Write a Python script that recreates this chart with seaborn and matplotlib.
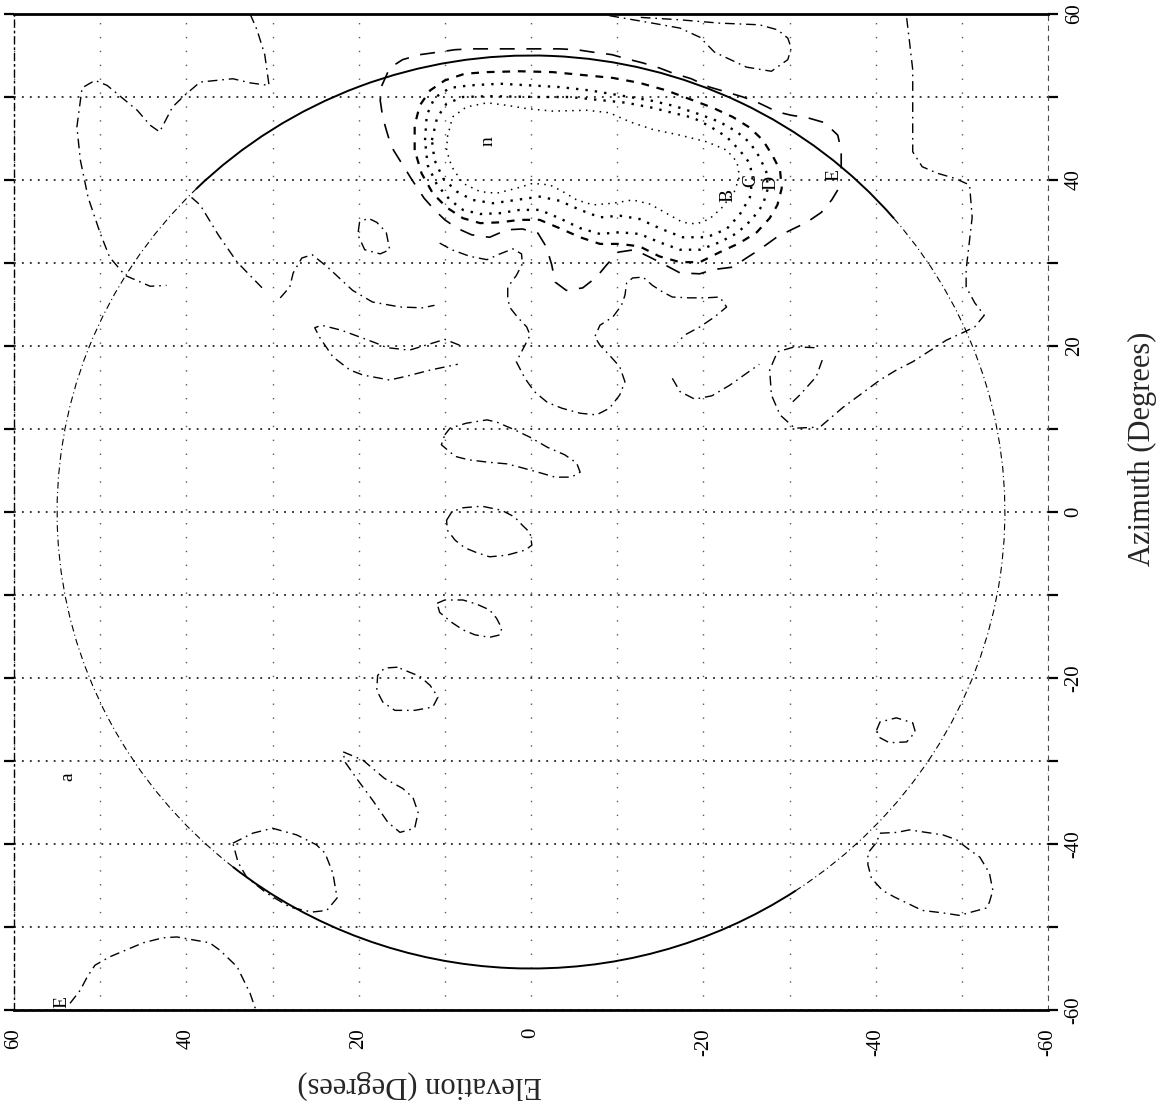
import matplotlib
matplotlib.use("Agg")
import matplotlib.pyplot as plt
from matplotlib.patches import Arc
from matplotlib.ticker import FixedLocator, FuncFormatter
import seaborn as sns

# ---------------- axis data ----------------
elev_ticks = [60, 50, 40, 30, 20, 10, 0, -10, -20, -30, -40, -50, -60]
az_ticks = [60, 50, 40, 30, 20, 10, 0, -10, -20, -30, -40, -50, -60]
labeled_ticks = [60, 40, 20, 0, -20, -40, -60]
elev_limits = (60, -60)
az_limits = (-60, 60)
x_title = "Elevation (Degrees)"
y_title = "Azimuth (Degrees)"

# ---------------- horizon circle ----------------
horizon_center = (0.0, 0.0)
horizon_radius = 55.0
horizon_solid_arcs = [(45, 140), (236, 309)]
horizon_dashdot_arcs = [(140, 236), (309, 405)]

# ---------------- contour lines (elevation, azimuth) ----------------
c_topleft = [(32.6, 60.0), (31.8, 58.1), (30.9, 55.1), (30.4, 51.4), (32.6, 51.7), (34.6, 52.2),
             (38.4, 51.8), (40.2, 50.2), (41.6, 48.8), (43.1, 45.8), (44.2, 46.6), (45.7, 48.4),
             (49.2, 51.4), (50.6, 52.0), (52.1, 51.1), (52.7, 46.4), (52.3, 42.4), (51.4, 37.9),
             (50.0, 33.6), (48.9, 30.7), (47.1, 28.5), (44.2, 27.2), (42.3, 27.3)]
c_diag_left = [(39.4, 37.9), (38.4, 37.0), (36.3, 33.4), (34.1, 30.1), (31.2, 27.0)]
c_cap_left = [(29.1, 25.8), (28.0, 27.1), (27.6, 28.8), (26.6, 30.6), (25.4, 31.0), (23.6, 29.5),
              (20.7, 26.7), (18.4, 25.3), (15.2, 24.7), (12.6, 24.6), (11.2, 24.9)]
c_wedge = [(8.3, 20.1), (10.0, 20.8), (14.1, 19.5), (16.7, 19.8), (18.1, 20.4), (22.0, 21.9),
           (24.3, 22.5), (25.1, 22.2), (24.5, 21.0), (23.0, 18.7), (21.0, 17.1), (19.5, 16.5),
           (16.4, 15.9), (14.3, 16.4), (11.7, 17.1), (8.5, 17.8)]
c_small_blob = [(19.9, 34.9), (20.1, 33.4), (19.3, 31.6), (17.5, 31.1), (16.4, 31.6), (16.8, 33.7),
                (17.9, 34.9), (18.9, 35.4), (19.9, 34.9)]

# main peak, innermost (k1) to outermost (k5)
k1 = [(9.7, 45.2), (9.1, 47.6), (7.5, 48.8), (5.1, 49.3), (2.8, 49.0), (0.5, 48.6), (-2.5, 48.3),
      (-6.5, 48.4), (-9.1, 48.1), (-11.5, 47.0), (-14.1, 46.1), (-17.3, 45.4), (-20.4, 44.6),
      (-22.7, 43.6), (-23.9, 42.2), (-24.2, 40.4), (-23.6, 38.6), (-22.1, 36.6), (-20.7, 35.3),
      (-19.2, 34.7), (-17.6, 34.9), (-15.7, 36.0), (-13.8, 37.1), (-11.8, 37.6), (-9.5, 37.2),
      (-7.2, 37.0), (-5.3, 37.6), (-3.7, 38.6), (-2.2, 39.4), (-0.2, 39.6), (1.7, 39.0), (4.0, 38.4),
      (5.9, 38.6), (7.9, 39.6), (9.2, 41.6), (9.8, 43.6), (9.7, 45.2)]
k2 = [(11.5, 44.8), (10.9, 47.5), (9.8, 49.2), (7.9, 50.0), (4.8, 50.1), (-0.7, 50.0), (-4.5, 50.0),
      (-8.3, 49.6), (-11.1, 49.3), (-14.1, 48.7), (-16.4, 48.1), (-18.8, 47.5), (-20.7, 46.5),
      (-22.7, 45.2), (-24.2, 43.6), (-25.4, 42.0), (-25.7, 40.2), (-25.4, 37.9), (-24.2, 35.8),
      (-22.7, 34.1), (-20.4, 33.1), (-17.6, 33.1), (-14.9, 34.2), (-12.6, 35.3), (-10.3, 35.7),
      (-8.0, 35.5), (-5.7, 36.4), (-3.3, 37.5), (-1.0, 38.0), (1.7, 37.6), (4.4, 37.2), (6.8, 37.6),
      (8.6, 38.6), (10.2, 40.2), (11.2, 42.4), (11.5, 44.8)]
k3 = [(12.3, 44.8), (12.1, 47.8), (11.2, 49.9), (9.4, 51.1), (7.1, 51.4), (3.6, 51.6), (0.1, 51.4),
      (-3.3, 51.2), (-6.8, 50.8), (-10.3, 50.2), (-13.8, 49.6), (-16.7, 48.9), (-19.6, 47.9),
      (-21.9, 47.0), (-23.9, 45.8), (-25.4, 44.5), (-26.5, 42.8), (-27.3, 41.0), (-27.5, 39.0),
      (-26.9, 37.0), (-25.6, 35.2), (-23.9, 33.6), (-21.9, 32.5), (-19.6, 31.6), (-17.3, 31.6),
      (-14.9, 32.5), (-12.6, 33.5), (-10.3, 33.7), (-8.0, 33.5), (-5.7, 34.2), (-3.3, 35.4),
      (-1.0, 36.4), (1.3, 36.4), (3.6, 36.0), (5.9, 35.9), (7.9, 36.4), (9.4, 37.6), (10.9, 39.4),
      (12.0, 41.8), (12.3, 44.8)]
k4 = [(13.5, 43.6), (13.5, 46.6), (12.9, 49.0), (11.7, 50.8), (10.0, 52.0), (7.7, 52.8), (5.1, 53.0),
      (1.3, 53.1), (-2.5, 53.0), (-6.5, 52.6), (-9.5, 52.3), (-12.6, 51.7), (-15.7, 50.8),
      (-18.8, 49.6), (-21.1, 48.7), (-23.4, 47.6), (-25.4, 46.3), (-26.9, 44.8), (-28.0, 43.0),
      (-28.9, 41.2), (-29.1, 39.0), (-28.6, 37.0), (-27.7, 35.4), (-26.2, 33.7), (-24.2, 32.4),
      (-21.9, 31.3), (-19.6, 30.1), (-17.3, 30.1), (-14.9, 30.8), (-12.6, 32.0), (-10.3, 32.3),
      (-8.0, 32.3), (-5.7, 33.1), (-3.3, 34.2), (-1.0, 35.2), (1.3, 35.2), (3.6, 34.9), (5.9, 34.8),
      (7.9, 35.4), (9.8, 36.7), (11.4, 38.4), (12.7, 40.8), (13.5, 43.6)]
k5 = [(-36.0, 41.4), (-36.0, 43.6), (-35.6, 45.4), (-34.1, 46.9), (-32.1, 47.5), (-30.2, 47.8),
      (-28.6, 48.2), (-26.2, 49.4), (-24.6, 50.0), (-22.7, 50.6), (-20.7, 51.2), (-18.6, 52.2),
      (-16.4, 52.9), (-14.9, 53.5), (-13.0, 54.1), (-11.1, 54.6), (-9.4, 55.1), (-7.2, 55.4),
      (-5.3, 55.7), (-3.3, 55.8), (-1.2, 55.8), (0.4, 55.8), (2.7, 55.8), (4.8, 55.8), (6.8, 55.8),
      (8.8, 55.7), (10.8, 55.4), (12.9, 55.1), (14.9, 54.5), (16.4, 53.5), (17.3, 51.4), (17.5, 49.6),
      (17.2, 47.5), (16.7, 45.7), (16.2, 44.0), (15.0, 42.0), (13.8, 40.0), (12.4, 37.8), (11.2, 36.4),
      (10.0, 35.2), (8.6, 34.2), (6.9, 33.4), (4.8, 33.1), (2.8, 34.0), (1.0, 34.1), (-0.8, 33.6),
      (-1.8, 31.9), (-2.4, 29.8), (-2.8, 27.7), (-4.1, 26.7), (-6.0, 27.0), (-7.6, 28.3), (-8.8, 29.8),
      (-10.1, 31.3), (-12.0, 31.6), (-13.8, 30.7), (-15.5, 29.8), (-17.3, 28.8), (-19.6, 28.7),
      (-21.1, 29.2), (-23.4, 29.5), (-25.0, 30.6), (-26.5, 31.6), (-28.5, 33.1), (-30.0, 33.9),
      (-32.0, 34.9), (-33.7, 36.1), (-34.9, 37.6), (-35.6, 38.8)]

c_top_teardrop = [(-9.1, 59.8), (-14.1, 58.9), (-17.3, 58.3), (-19.6, 57.2), (-21.3, 55.4), (-25.0, 53.6),
                  (-27.9, 53.1), (-29.8, 54.5), (-30.2, 55.9), (-29.8, 57.1), (-28.6, 58.1), (-26.5, 58.7),
                  (-21.9, 58.9), (-17.3, 59.3), (-12.6, 59.6)]
c_right_long = [(-43.6, 59.5), (-43.9, 56.9), (-44.3, 53.3), (-44.3, 47.6), (-44.3, 43.4), (-45.4, 41.6),
                (-47.2, 40.8), (-49.2, 40.2), (-50.9, 39.4), (-51.2, 35.5), (-50.9, 32.8), (-50.5, 29.2),
                (-50.5, 27.1), (-51.5, 25.2), (-52.6, 23.7), (-51.5, 22.3), (-50.1, 21.6), (-48.2, 20.7),
                (-44.3, 18.1), (-42.4, 17.1), (-40.5, 15.9), (-36.2, 12.6), (-33.5, 10.2)]
c_right_loop = [(-32.9, 19.8), (-30.6, 19.9), (-28.6, 19.3), (-27.7, 17.1), (-27.9, 14.1), (-28.9, 11.7),
                (-30.6, 10.1), (-32.9, 10.2)]
c_right_diag = [(-33.8, 18.3), (-33.1, 16.3), (-31.2, 14.1), (-30.0, 12.9)]
c_small_u = [(-16.4, 16.1), (-17.3, 14.5), (-19.0, 13.6), (-21.0, 14.0), (-23.1, 15.3), (-25.0, 16.7),
             (-26.5, 17.8)]
c_long_u = [(10.6, 32.4), (9.2, 31.6), (7.1, 30.8), (5.1, 30.4), (3.6, 31.1), (2.1, 31.7), (1.1, 31.1),
            (1.0, 29.9), (1.7, 28.5), (2.7, 27.1), (2.7, 25.9), (2.5, 24.7), (1.5, 23.4), (0.5, 22.3),
            (0.1, 21.3), (1.0, 19.5), (1.7, 18.1), (0.7, 16.1), (-0.4, 14.5), (-1.9, 13.2), (-3.6, 12.5),
            (-5.7, 11.9), (-7.6, 11.7), (-9.1, 12.5), (-10.3, 14.1), (-10.9, 15.7), (-10.3, 17.5),
            (-9.1, 18.9), (-8.0, 20.1), (-7.4, 21.1), (-8.0, 22.5), (-9.5, 23.5), (-10.5, 24.9),
            (-10.9, 26.1), (-11.1, 27.6), (-11.8, 28.2), (-13.0, 28.3), (-14.1, 27.3), (-15.3, 26.5),
            (-16.4, 25.9), (-18.4, 25.8), (-20.2, 25.8), (-21.9, 25.9), (-22.7, 24.7), (-21.3, 23.5),
            (-19.6, 22.3), (-17.8, 21.3), (-17.0, 20.4)]
c_loop_b = [(10.0, 9.3), (9.4, 10.1), (7.5, 10.7), (5.1, 11.1), (3.9, 10.8), (1.9, 9.9), (0.1, 9.0),
            (-1.9, 7.8), (-3.9, 6.9), (-5.3, 5.9), (-5.7, 4.8), (-4.7, 4.2), (-2.8, 4.2), (-0.8, 4.8),
            (1.3, 5.4), (2.8, 5.8), (5.0, 6.0), (7.3, 6.3), (8.8, 6.7), (10.4, 8.1), (10.0, 9.3)]
c_loop_c = [(9.8, -1.0), (9.2, 0.0), (8.0, 0.5), (5.7, 0.7), (3.4, 0.2), (1.9, -0.6), (1.0, -1.6),
            (0.1, -2.5), (-0.1, -4.0), (0.7, -4.6), (2.8, -5.2), (4.8, -5.4), (6.3, -4.9), (7.7, -4.3),
            (8.8, -3.4), (9.7, -2.2), (9.8, -1.0)]
c_loop_d = [(10.9, -11.0), (10.0, -10.6), (7.9, -10.6), (6.3, -11.1), (4.8, -11.8), (4.0, -12.8),
            (3.4, -14.0), (3.6, -14.8), (4.8, -15.1), (6.5, -14.8), (7.9, -14.2), (9.2, -13.3),
            (10.6, -12.1), (10.9, -11.0)]
c_loop_e = [(15.5, -18.7), (17.0, -18.8), (17.8, -19.7), (17.9, -21.5), (17.2, -22.9), (15.8, -23.9),
            (13.5, -23.9), (11.4, -23.5), (10.8, -22.3), (11.7, -20.9), (12.9, -19.8), (14.1, -19.3),
            (15.5, -18.7)]
c_loop_f = [(21.8, -28.9), (19.5, -29.9), (17.0, -32.1), (14.9, -33.3), (13.7, -34.4), (13.1, -36.2),
            (13.5, -38.1), (15.2, -38.6), (16.6, -37.4), (18.4, -34.7), (20.1, -32.3), (21.6, -30.1),
            (21.8, -28.9)]
c_loop_g = [(34.6, -39.9), (32.3, -38.7), (30.0, -38.1), (27.2, -38.9), (24.9, -40.1), (23.9, -41.1),
            (23.0, -43.5), (22.5, -46.5), (23.7, -48.0), (25.4, -48.2), (28.0, -47.6), (30.7, -45.9),
            (31.8, -45.0), (33.0, -44.0), (34.0, -42.2), (34.6, -39.9)]
c_arch = [(53.5, -59.2), (52.3, -57.6), (51.5, -56.0), (50.6, -54.6), (48.9, -53.6), (45.0, -51.9),
          (42.7, -51.3), (41.1, -51.2), (37.3, -51.9), (36.1, -52.8), (34.1, -54.8), (32.6, -58.0),
          (32.0, -59.8)]
c_loop_j = [(-40.1, -26.3), (-40.5, -25.3), (-42.4, -24.8), (-44.3, -25.4), (-44.6, -26.5), (-43.6, -27.7),
            (-41.6, -27.8), (-40.5, -27.2), (-40.1, -26.3)]
c_loop_ellipse = [(-40.5, -38.7), (-42.5, -38.6), (-43.9, -38.3), (-47.8, -38.9), (-49.4, -39.5),
                  (-50.5, -40.4), (-52.1, -41.6), (-53.2, -43.5), (-53.6, -45.6), (-53.2, -47.0),
                  (-52.9, -47.7), (-49.7, -48.6), (-47.8, -48.3), (-45.4, -48.0), (-42.2, -46.4),
                  (-40.8, -45.6), (-39.5, -44.1), (-39.1, -42.5), (-39.1, -41.1), (-40.1, -39.8),
                  (-40.5, -38.7)]

# contour labels: (text, elevation, azimuth)
contour_labels = [("n", 5.0, 44.7), ("B", -22.8, 38.1), ("C", -25.5, 39.9), ("D", -27.8, 39.6),
                  ("E", -35.2, 40.6), ("a", 53.7, -31.9), ("E", 54.5, -59.0)]

# ---------------- styles ----------------
DASHDOT = (0, (7, 3.5, 1.2, 3.5))
style_dashdot = dict(lw=1.0, ls=DASHDOT)
style_k1 = dict(lw=1.1, ls=(0, (1, 3.5)))
style_k2 = dict(lw=1.7, ls=(0, (1, 3)))
style_k3 = dict(lw=1.7, ls=(0, (1, 3)))
style_k4 = dict(lw=1.6, ls=(0, (3.5, 3.5)))
style_k5 = dict(lw=1.2, ls=(0, (9, 7)))

lines = [
    (c_topleft, style_dashdot), (c_diag_left, style_dashdot), (c_cap_left, style_dashdot),
    (c_wedge, style_dashdot), (c_small_blob, style_dashdot),
    (k1, style_k1), (k2, style_k2), (k3, style_k3), (k4, style_k4), (k5, style_k5),
    (c_top_teardrop, style_dashdot), (c_right_long, style_dashdot), (c_right_loop, style_dashdot),
    (c_right_diag, style_dashdot), (c_small_u, style_dashdot), (c_long_u, style_dashdot),
    (c_loop_b, style_dashdot), (c_loop_c, style_dashdot), (c_loop_d, style_dashdot),
    (c_loop_e, style_dashdot), (c_loop_f, style_dashdot), (c_loop_g, style_dashdot),
    (c_arch, style_dashdot), (c_loop_j, style_dashdot), (c_loop_ellipse, style_dashdot),
]

# ---------------- figure ----------------
sns.set_theme(style="white")
plt.rcParams["font.family"] = ["Liberation Serif", "DejaVu Serif"]
plt.rcParams["axes.unicode_minus"] = False

W, H = 1162, 1113
fig = plt.figure(figsize=(W / 100, H / 100), dpi=100)
ax = fig.add_axes([14 / W, 1 - 1010 / H, (1048 - 14) / W, (1010 - 14) / H])
ax.set_facecolor("white")

for pts, st in lines:
    xs = [p[0] for p in pts]
    ys = [p[1] for p in pts]
    sns.lineplot(x=xs, y=ys, sort=False, estimator=None, ax=ax, color="black",
                 linewidth=st["lw"], linestyle=st["ls"], legend=False)

for t1, t2 in horizon_solid_arcs:
    ax.add_patch(Arc(horizon_center, 2 * horizon_radius, 2 * horizon_radius, theta1=t1, theta2=t2,
                     color="black", lw=1.4))
for t1, t2 in horizon_dashdot_arcs:
    ax.add_patch(Arc(horizon_center, 2 * horizon_radius, 2 * horizon_radius, theta1=t1, theta2=t2,
                     color="black", lw=0.8, ls=(0, (6, 3, 1, 3))))

for txt, e, a in contour_labels:
    ax.text(e, a, txt, rotation=90, ha="center", va="center", fontsize=14, color="black")

ax.set_xlim(*elev_limits)
ax.set_ylim(*az_limits)
ax.xaxis.set_major_locator(FixedLocator(elev_ticks))
ax.yaxis.set_major_locator(FixedLocator(az_ticks))
fmt = FuncFormatter(lambda v, p: (str(int(round(v))) if int(round(v)) in labeled_ticks else ""))
ax.xaxis.set_major_formatter(fmt)
ax.yaxis.set_major_formatter(fmt)

ax.set_axisbelow(True)
ax.yaxis.grid(True, color="black", linewidth=1.1, linestyle=(0, (1.2, 4)))
ax.xaxis.grid(True, color="0.35", linewidth=1.0, linestyle=(0, (1, 9)))

ax.tick_params(axis="x", bottom=True, top=False, length=0, pad=13, labelsize=15,
               labelrotation=90, colors="black")
ax.tick_params(axis="y", left=True, right=True, labelleft=False, labelright=True,
               direction="out", length=7, width=1.6, pad=5, labelsize=15, labelrotation=90,
               colors="black")
for t in ax.yaxis.get_major_ticks():
    t.label2.set_va("center")

for side in ["top", "bottom"]:
    ax.spines[side].set_color("black")
    ax.spines[side].set_linewidth(2.0)
ax.spines["left"].set_color("black")
ax.spines["left"].set_linewidth(1.0)
ax.spines["left"].set_linestyle((0, (5, 3, 1, 3)))
ax.spines["right"].set_color("0.3")
ax.spines["right"].set_linewidth(0.8)
ax.spines["right"].set_linestyle((0, (4, 5)))

fig.text(1142 / W, 1 - 449 / H, y_title, rotation=90, ha="center", va="center", fontsize=22)
fig.text(420 / W, 1 - 1085 / H, x_title, rotation=180, ha="center", va="center", fontsize=22)

fig.savefig("out.png", dpi=100, facecolor="white")
